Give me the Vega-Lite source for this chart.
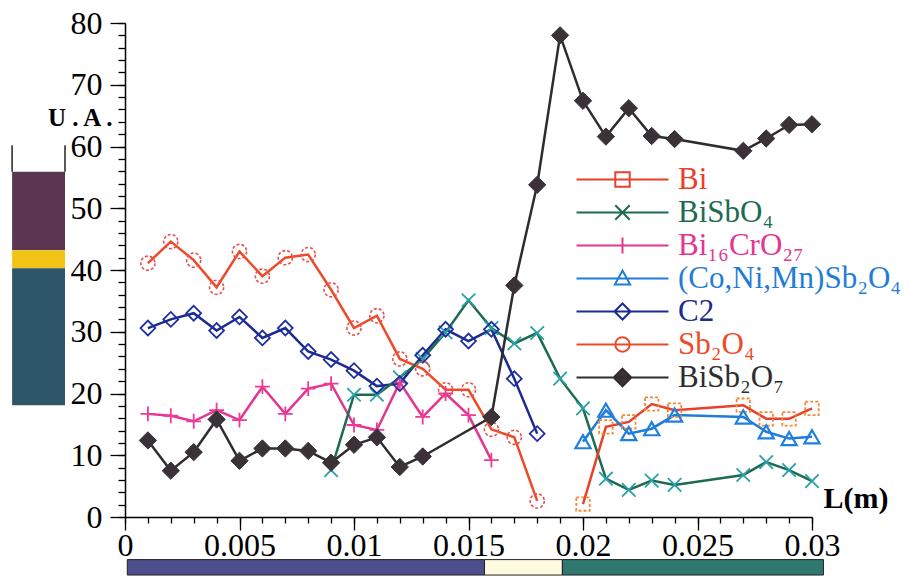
{
  "$schema": "https://vega.github.io/schema/vega-lite/v6.json",
  "width": 687,
  "height": 494,
  "autosize": {"type": "none"},
  "padding": {"left": 125, "top": 23, "right": 109, "bottom": 64},
  "background": "white",
  "config": {
    "view": {"stroke": null},
    "axis": {"grid": false, "domainColor": "black", "tickColor": "black", "labelColor": "black", "titleColor": "black", "labelFont": "Liberation Serif", "titleFont": "Liberation Serif"}
  },
  "resolve": {"axis": {"x": "independent", "y": "independent"}},
  "datasets": {
    "series": [
      {"s": "Sb₂O₄", "x": 0.001, "y": 41.1}, {"s": "Sb₂O₄", "x": 0.002, "y": 44.6}, {"s": "Sb₂O₄", "x": 0.003, "y": 41.6}, {"s": "Sb₂O₄", "x": 0.004, "y": 37.2}, {"s": "Sb₂O₄", "x": 0.005, "y": 43.0}, {"s": "Sb₂O₄", "x": 0.006, "y": 39.0}, {"s": "Sb₂O₄", "x": 0.007, "y": 42.0}, {"s": "Sb₂O₄", "x": 0.008, "y": 42.5}, {"s": "Sb₂O₄", "x": 0.009, "y": 36.8}, {"s": "Sb₂O₄", "x": 0.010, "y": 30.6}, {"s": "Sb₂O₄", "x": 0.011, "y": 32.6}, {"s": "Sb₂O₄", "x": 0.012, "y": 25.6}, {"s": "Sb₂O₄", "x": 0.013, "y": 24.0}, {"s": "Sb₂O₄", "x": 0.014, "y": 20.6}, {"s": "Sb₂O₄", "x": 0.015, "y": 20.6}, {"s": "Sb₂O₄", "x": 0.016, "y": 14.2}, {"s": "Sb₂O₄", "x": 0.017, "y": 12.9}, {"s": "Sb₂O₄", "x": 0.018, "y": 2.6},
      {"s": "C2", "x": 0.001, "y": 30.6}, {"s": "C2", "x": 0.002, "y": 32.0}, {"s": "C2", "x": 0.003, "y": 33.0}, {"s": "C2", "x": 0.004, "y": 30.2}, {"s": "C2", "x": 0.005, "y": 32.4}, {"s": "C2", "x": 0.006, "y": 29.0}, {"s": "C2", "x": 0.007, "y": 30.6}, {"s": "C2", "x": 0.008, "y": 26.8}, {"s": "C2", "x": 0.009, "y": 25.5}, {"s": "C2", "x": 0.010, "y": 23.7}, {"s": "C2", "x": 0.011, "y": 21.2}, {"s": "C2", "x": 0.012, "y": 21.6}, {"s": "C2", "x": 0.013, "y": 26.2}, {"s": "C2", "x": 0.014, "y": 30.4}, {"s": "C2", "x": 0.015, "y": 28.5}, {"s": "C2", "x": 0.016, "y": 30.4}, {"s": "C2", "x": 0.017, "y": 22.4}, {"s": "C2", "x": 0.018, "y": 13.5},
      {"s": "Bi₁₆CrO₂₇", "x": 0.001, "y": 16.7}, {"s": "Bi₁₆CrO₂₇", "x": 0.002, "y": 16.4}, {"s": "Bi₁₆CrO₂₇", "x": 0.003, "y": 15.5}, {"s": "Bi₁₆CrO₂₇", "x": 0.004, "y": 17.3}, {"s": "Bi₁₆CrO₂₇", "x": 0.005, "y": 15.7}, {"s": "Bi₁₆CrO₂₇", "x": 0.006, "y": 21.1}, {"s": "Bi₁₆CrO₂₇", "x": 0.007, "y": 16.7}, {"s": "Bi₁₆CrO₂₇", "x": 0.008, "y": 20.8}, {"s": "Bi₁₆CrO₂₇", "x": 0.009, "y": 21.6}, {"s": "Bi₁₆CrO₂₇", "x": 0.010, "y": 14.9}, {"s": "Bi₁₆CrO₂₇", "x": 0.011, "y": 14.1}, {"s": "Bi₁₆CrO₂₇", "x": 0.012, "y": 21.8}, {"s": "Bi₁₆CrO₂₇", "x": 0.013, "y": 16.2}, {"s": "Bi₁₆CrO₂₇", "x": 0.014, "y": 20.0}, {"s": "Bi₁₆CrO₂₇", "x": 0.015, "y": 16.5}, {"s": "Bi₁₆CrO₂₇", "x": 0.016, "y": 9.2},
      {"s": "BiSbO₄", "x": 0.009, "y": 7.6}, {"s": "BiSbO₄", "x": 0.010, "y": 19.8}, {"s": "BiSbO₄", "x": 0.011, "y": 19.8}, {"s": "BiSbO₄", "x": 0.012, "y": 22.6}, {"s": "BiSbO₄", "x": 0.013, "y": 25.6}, {"s": "BiSbO₄", "x": 0.014, "y": 29.9}, {"s": "BiSbO₄", "x": 0.015, "y": 35.1}, {"s": "BiSbO₄", "x": 0.016, "y": 30.6}, {"s": "BiSbO₄", "x": 0.017, "y": 28.1}, {"s": "BiSbO₄", "x": 0.018, "y": 29.8}, {"s": "BiSbO₄", "x": 0.019, "y": 22.4}, {"s": "BiSbO₄", "x": 0.020, "y": 17.6}, {"s": "BiSbO₄", "x": 0.021, "y": 6.2}, {"s": "BiSbO₄", "x": 0.022, "y": 4.4}, {"s": "BiSbO₄", "x": 0.023, "y": 5.9}, {"s": "BiSbO₄", "x": 0.024, "y": 5.2}, {"s": "BiSbO₄", "x": 0.027, "y": 6.8}, {"s": "BiSbO₄", "x": 0.028, "y": 8.9}, {"s": "BiSbO₄", "x": 0.029, "y": 7.6}, {"s": "BiSbO₄", "x": 0.030, "y": 5.8},
      {"s": "Bi", "x": 0.020, "y": 2.1}, {"s": "Bi", "x": 0.021, "y": 14.6}, {"s": "Bi", "x": 0.022, "y": 15.4}, {"s": "Bi", "x": 0.023, "y": 18.3}, {"s": "Bi", "x": 0.024, "y": 17.3}, {"s": "Bi", "x": 0.027, "y": 18.1}, {"s": "Bi", "x": 0.028, "y": 15.9}, {"s": "Bi", "x": 0.029, "y": 15.9}, {"s": "Bi", "x": 0.030, "y": 17.6},
      {"s": "(Co,Ni,Mn)Sb₂O₄", "x": 0.020, "y": 12.2}, {"s": "(Co,Ni,Mn)Sb₂O₄", "x": 0.021, "y": 17.3}, {"s": "(Co,Ni,Mn)Sb₂O₄", "x": 0.022, "y": 13.5}, {"s": "(Co,Ni,Mn)Sb₂O₄", "x": 0.023, "y": 14.3}, {"s": "(Co,Ni,Mn)Sb₂O₄", "x": 0.024, "y": 16.5}, {"s": "(Co,Ni,Mn)Sb₂O₄", "x": 0.027, "y": 16.2}, {"s": "(Co,Ni,Mn)Sb₂O₄", "x": 0.028, "y": 13.8}, {"s": "(Co,Ni,Mn)Sb₂O₄", "x": 0.029, "y": 12.7}, {"s": "(Co,Ni,Mn)Sb₂O₄", "x": 0.030, "y": 13.0},
      {"s": "BiSb₂O₇", "x": 0.001, "y": 12.4}, {"s": "BiSb₂O₇", "x": 0.002, "y": 7.5}, {"s": "BiSb₂O₇", "x": 0.003, "y": 10.5}, {"s": "BiSb₂O₇", "x": 0.004, "y": 15.8}, {"s": "BiSb₂O₇", "x": 0.005, "y": 9.1}, {"s": "BiSb₂O₇", "x": 0.006, "y": 11.1}, {"s": "BiSb₂O₇", "x": 0.007, "y": 11.1}, {"s": "BiSb₂O₇", "x": 0.008, "y": 10.7}, {"s": "BiSb₂O₇", "x": 0.009, "y": 8.8}, {"s": "BiSb₂O₇", "x": 0.010, "y": 11.7}, {"s": "BiSb₂O₇", "x": 0.011, "y": 12.9}, {"s": "BiSb₂O₇", "x": 0.012, "y": 8.1}, {"s": "BiSb₂O₇", "x": 0.013, "y": 9.8}, {"s": "BiSb₂O₇", "x": 0.016, "y": 16.2}, {"s": "BiSb₂O₇", "x": 0.017, "y": 37.5}, {"s": "BiSb₂O₇", "x": 0.018, "y": 53.8}, {"s": "BiSb₂O₇", "x": 0.019, "y": 78.0}, {"s": "BiSb₂O₇", "x": 0.020, "y": 67.4}, {"s": "BiSb₂O₇", "x": 0.021, "y": 61.6}, {"s": "BiSb₂O₇", "x": 0.022, "y": 66.2}, {"s": "BiSb₂O₇", "x": 0.023, "y": 61.7}, {"s": "BiSb₂O₇", "x": 0.024, "y": 61.2}, {"s": "BiSb₂O₇", "x": 0.027, "y": 59.3}, {"s": "BiSb₂O₇", "x": 0.028, "y": 61.3}, {"s": "BiSb₂O₇", "x": 0.029, "y": 63.5}, {"s": "BiSb₂O₇", "x": 0.030, "y": 63.6}
    ]
  },
  "layer": [
    {
      "data": {"values": [{}]},
      "mark": {"type": "rect", "color": "#5b3652"},
      "encoding": {"x": {"datum": -0.00493, "type": "quantitative", "axis": null}, "x2": {"datum": -0.00262}, "y": {"datum": 43.2, "type": "quantitative", "axis": null}, "y2": {"datum": 55.9}}
    },
    {
      "data": {"values": [{}]},
      "mark": {"type": "rect", "color": "#f2c418"},
      "encoding": {"x": {"datum": -0.00493, "type": "quantitative", "axis": null}, "x2": {"datum": -0.00262}, "y": {"datum": 40.3, "type": "quantitative", "axis": null}, "y2": {"datum": 43.2}}
    },
    {
      "data": {"values": [{}]},
      "mark": {"type": "rect", "color": "#2d5768"},
      "encoding": {"x": {"datum": -0.00493, "type": "quantitative", "axis": null}, "x2": {"datum": -0.00262}, "y": {"datum": 18.1, "type": "quantitative", "axis": null}, "y2": {"datum": 40.3}}
    },
    {
      "data": {"values": [{"side": -0.00493}, {"side": -0.00262}]},
      "mark": {"type": "rule", "color": "#222", "strokeWidth": 1.5},
      "encoding": {"x": {"field": "side", "type": "quantitative", "axis": null}, "y": {"datum": 55.9, "type": "quantitative", "axis": null}, "y2": {"datum": 60.2}}
    },
    {
      "data": {"values": [{}]},
      "mark": {"type": "rect", "color": "#4d4f8c", "stroke": "#222", "strokeWidth": 1},
      "encoding": {"x": {"datum": 0.0001, "type": "quantitative", "axis": null}, "x2": {"datum": 0.0157}, "y": {"datum": -6.9, "type": "quantitative", "axis": null}, "y2": {"datum": -9.4}}
    },
    {
      "data": {"values": [{}]},
      "mark": {"type": "rect", "color": "#fffbe0", "stroke": "#222", "strokeWidth": 1},
      "encoding": {"x": {"datum": 0.0157, "type": "quantitative", "axis": null}, "x2": {"datum": 0.0191}, "y": {"datum": -6.9, "type": "quantitative", "axis": null}, "y2": {"datum": -9.4}}
    },
    {
      "data": {"values": [{}]},
      "mark": {"type": "rect", "color": "#2f7870", "stroke": "#222", "strokeWidth": 1},
      "encoding": {"x": {"datum": 0.0191, "type": "quantitative", "axis": null}, "x2": {"datum": 0.0305}, "y": {"datum": -6.9, "type": "quantitative", "axis": null}, "y2": {"datum": -9.4}}
    },
    {
      "data": {"name": "series"},
      "mark": {"type": "line", "strokeWidth": 2.5},
      "encoding": {
        "x": {"field": "x", "type": "quantitative", "scale": {"domain": [0, 0.03], "nice": false, "zero": false},
          "axis": {"orient": "bottom", "title": "L(m)", "titleFontSize": 30, "titleFontWeight": "bold", "titleAlign": "left", "titleBaseline": "middle", "titleX": 698, "titleY": -19,
            "values": [0, 0.005, 0.01, 0.015, 0.02, 0.025, 0.03], "tickCount": 60, "format": ".3~f",
            "labelFontSize": 32, "labelOverlap": false, "labelBound": false, "labelFlush": false, "tickSize": 13, "labelPadding": 0, "domainWidth": 1.5, "tickWidth": 1.3}},
        "y": {"field": "y", "type": "quantitative", "scale": {"domain": [0, 80], "nice": false},
          "axis": {"orient": "left", "title": "U . A .", "titleFontSize": 25, "titleFontWeight": "bold", "titleAngle": 0, "titleAlign": "right", "titleBaseline": "middle", "titleX": -13, "titleY": 94,
            "values": [0, 10, 20, 30, 40, 50, 60, 70, 80], "tickCount": 60,
            "labelFontSize": 32, "labelOverlap": false, "labelBound": false, "labelFlush": false, "tickSize": 15, "labelPadding": 8, "domainWidth": 1.5, "tickWidth": 1.3}},
        "color": {"field": "s", "type": "nominal",
          "scale": {"domain": ["Bi", "BiSbO₄", "Bi₁₆CrO₂₇", "(Co,Ni,Mn)Sb₂O₄", "C2", "Sb₂O₄", "BiSb₂O₇"], "range": ["#e8402a", "#1e6b52", "#e43590", "#1f7dd8", "#1d2a8e", "#ee4a2a", "#2e2c2e"]},
          "legend": {"orient": "none", "legendX": 482, "legendY": 141, "title": null, "padding": 0, "labelFont": "Liberation Serif", "labelFontSize": 31, "labelOffset": 40, "symbolSize": 256, "symbolStrokeWidth": 2, "rowPadding": 1, "labelLimit": 400,
            "encode": {
              "symbols": {"update": {
                "shape": {"signal": "['M-5.75,0H5.75M-0.9,-0.9H0.9V0.9H-0.9Z', 'M-5.75,0H5.75M-0.9,-0.9L0.9,0.9M-0.9,0.9L0.9,-0.9', 'M-5.75,0H5.75M0,-1V1', 'M-5.75,0H5.75M0,-1L0.95,0.75H-0.95Z', 'M-5.75,0H5.75M0,-1L1,0L0,1L-1,0Z', 'M-5.75,0H5.75M0.9,0A0.9,0.9,0,1,1,-0.9,0A0.9,0.9,0,1,1,0.9,0', 'M-5.75,0H5.75M0,-1.1L1.1,0L0,1.1L-1.1,0Z'][datum.index]"},
                "fill": {"signal": "datum.index === 6 ? '#3a3236' : 'transparent'"},
                "stroke": {"scale": "color", "field": "value"},
                "strokeWidth": {"value": 2},
                "size": {"value": 256},
                "opacity": {"value": 1}
              }},
              "labels": {"update": {"fill": {"scale": "color", "field": "value"}}}
            }}},
        "detail": {"field": "s"}
      }
    },
    {
      "data": {"name": "series"},
      "transform": [{"filter": "datum.s === 'Bi'"}],
      "mark": {"type": "point", "shape": "square", "size": 180, "stroke": "#f08a3a", "fill": "transparent", "strokeWidth": 1.8, "strokeDash": [3, 2], "opacity": 1},
      "encoding": {"x": {"field": "x", "type": "quantitative", "axis": null}, "y": {"field": "y", "type": "quantitative", "axis": null}}
    },
    {
      "data": {"name": "series"},
      "transform": [{"filter": "datum.s === 'BiSbO₄'"}],
      "mark": {"type": "point", "shape": "M-1,-1L1,1M-1,1L1,-1", "size": 180, "stroke": "#2aa0a8", "fill": "transparent", "strokeWidth": 1.8, "opacity": 1},
      "encoding": {"x": {"field": "x", "type": "quantitative", "axis": null}, "y": {"field": "y", "type": "quantitative", "axis": null}}
    },
    {
      "data": {"name": "series"},
      "transform": [{"filter": "datum.s === 'Bi₁₆CrO₂₇'"}],
      "mark": {"type": "point", "shape": "M-1,0H1M0,-1V1", "size": 220, "stroke": "#ee3a96", "fill": "transparent", "strokeWidth": 1.8, "opacity": 1},
      "encoding": {"x": {"field": "x", "type": "quantitative", "axis": null}, "y": {"field": "y", "type": "quantitative", "axis": null}}
    },
    {
      "data": {"name": "series"},
      "transform": [{"filter": "datum.s === '(Co,Ni,Mn)Sb₂O₄'"}],
      "mark": {"type": "point", "shape": "triangle-up", "size": 230, "stroke": "#1f80e0", "fill": "transparent", "strokeWidth": 2.2, "opacity": 1},
      "encoding": {"x": {"field": "x", "type": "quantitative", "axis": null}, "y": {"field": "y", "type": "quantitative", "axis": null}}
    },
    {
      "data": {"name": "series"},
      "transform": [{"filter": "datum.s === 'C2'"}],
      "mark": {"type": "point", "shape": "diamond", "size": 220, "stroke": "#1d2fa0", "fill": "transparent", "strokeWidth": 1.8, "opacity": 1},
      "encoding": {"x": {"field": "x", "type": "quantitative", "axis": null}, "y": {"field": "y", "type": "quantitative", "axis": null}}
    },
    {
      "data": {"name": "series"},
      "transform": [{"filter": "datum.s === 'Sb₂O₄'"}],
      "mark": {"type": "point", "shape": "circle", "size": 200, "stroke": "#e85050", "fill": "transparent", "strokeWidth": 1.6, "strokeDash": [3, 2], "opacity": 1},
      "encoding": {"x": {"field": "x", "type": "quantitative", "axis": null}, "y": {"field": "y", "type": "quantitative", "axis": null}}
    },
    {
      "data": {"name": "series"},
      "transform": [{"filter": "datum.s === 'BiSb₂O₇'"}],
      "mark": {"type": "point", "shape": "diamond", "size": 300, "stroke": "#3a3236", "fill": "#3a3236", "strokeWidth": 1, "opacity": 1},
      "encoding": {
        "x": {"field": "x", "type": "quantitative",
          "axis": {"orient": "bottom", "title": null, "labels": false, "domain": false, "tickSize": 6, "tickWidth": 1.3, "tickCount": 60,
            "values": [0, 0.001, 0.002, 0.003, 0.004, 0.005, 0.006, 0.007, 0.008, 0.009, 0.01, 0.011, 0.012, 0.013, 0.014, 0.015, 0.016, 0.017, 0.018, 0.019, 0.02, 0.021, 0.022, 0.023, 0.024, 0.025, 0.026, 0.027, 0.028, 0.029, 0.03]}},
        "y": {"field": "y", "type": "quantitative",
          "axis": {"orient": "left", "title": null, "labels": false, "domain": false, "tickSize": 7, "tickWidth": 1.3, "tickCount": 60,
            "values": [0, 2, 4, 6, 8, 10, 12, 14, 16, 18, 20, 22, 24, 26, 28, 30, 32, 34, 36, 38, 40, 42, 44, 46, 48, 50, 52, 54, 56, 58, 60, 62, 64, 66, 68, 70, 72, 74, 76, 78, 80]}}
      }
    }
  ]
}
